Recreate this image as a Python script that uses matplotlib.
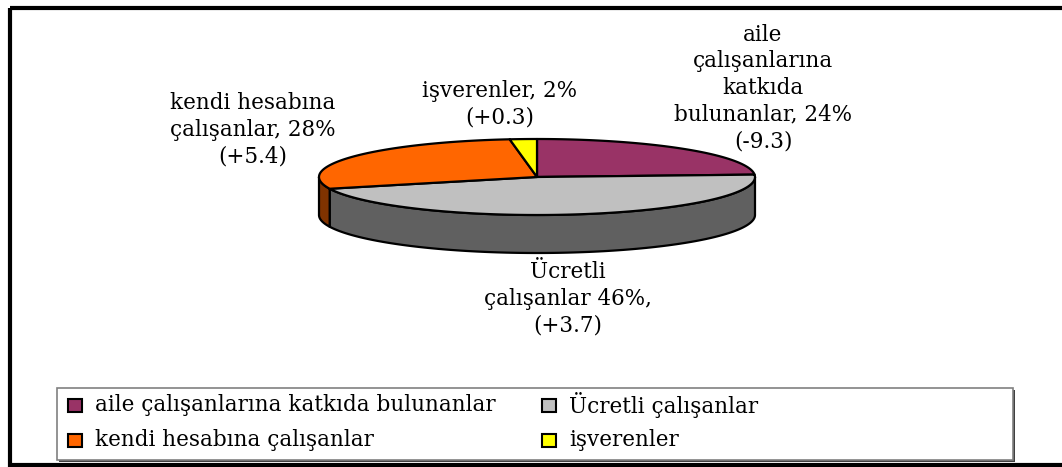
import matplotlib.pyplot as plt
import numpy as np
from matplotlib.patches import Polygon, Rectangle

# data
categories = ['aile çalışanlarına katkıda bulunanlar', 'Ücretli çalışanlar',
              'kendi hesabına çalışanlar', 'işverenler']
shares = [24, 46, 28, 2]
slice_labels = ['aile\nçalışanlarına\nkatkıda\nbulunanlar, 24%\n(-9.3)',
                'Ücretli\nçalışanlar 46%,\n(+3.7)',
                'kendi hesabına\nçalışanlar, 28%\n(+5.4)',
                'işverenler, 2%\n(+0.3)']

top_colors = ['#993366', '#C0C0C0', '#FF6600', '#FFFF00']
side_colors = ['#4d1a33', '#606060', '#803300', '#808000']

# label anchor points (pixel layout)
label_pos = [(763, 88), (568, 299), (253, 130), (500, 104)]

plt.rcParams['font.family'] = ['DejaVu Serif']
fig = plt.figure(figsize=(10.62, 4.67), dpi=100)
ax = fig.add_axes([0, 0, 1, 1])
ax.set_xlim(0, 1062)
ax.set_ylim(467, 0)
ax.axis('off')

# 3d pie geometry
cx, cy, rx, ry, depth = 537, 177, 218, 38, 38


def pt(deg, dy=0):
    t = np.radians(deg)
    return cx + rx * np.cos(t), cy - ry * np.sin(t) + dy


cum = np.concatenate([[0], np.cumsum(shares)]) / sum(shares) * 360
for i in range(len(shares)):
    t_hi = 90 - cum[i]
    t_lo = 90 - cum[i + 1]
    # side wall on the front half of the ellipse
    for k in (-1, 0, 1):
        a = max(t_lo, 180 + 360 * k)
        b = min(t_hi, 360 + 360 * k)
        if b > a:
            th = np.linspace(a, b, 120)
            xs, ys = pt(th)
            xb, yb = pt(th[::-1], depth)
            poly = np.column_stack([np.concatenate([xs, xb]), np.concatenate([ys, yb])])
            ax.add_patch(Polygon(poly, closed=True, facecolor=side_colors[i],
                                 edgecolor='black', lw=1.6, joinstyle='round', zorder=1))
    th = np.linspace(t_hi, t_lo, 200)
    xs, ys = pt(th)
    poly = np.column_stack([np.concatenate([[cx], xs]), np.concatenate([[cy], ys])])
    ax.add_patch(Polygon(poly, closed=True, facecolor=top_colors[i],
                         edgecolor='black', lw=1.6, joinstyle='round', zorder=2))

for (x, y), s in zip(label_pos, slice_labels):
    ax.text(x, y, s, ha='center', va='center', fontsize=15.5, linespacing=1.27,
            color='black', zorder=3)

# legend box with shadow
ax.add_patch(Rectangle((59, 390), 956, 72, facecolor='#404040', edgecolor='none', zorder=4))
ax.add_patch(Rectangle((57, 388), 956, 72, facecolor='white', edgecolor='#808080', lw=1.2, zorder=5))
leg_x = [68, 542, 68, 542]
leg_y = [405, 405, 440, 440]
for i, name in enumerate(categories):
    ax.add_patch(Rectangle((leg_x[i], leg_y[i] - 6.5), 14, 13, facecolor=top_colors[i],
                           edgecolor='black', lw=1.5, zorder=6))
    ax.text(leg_x[i] + 27, leg_y[i], name, ha='left', va='center', fontsize=15.5,
            color='black', zorder=6)

# outer chart border
ax.add_patch(Rectangle((9.5, 7.5), 1070, 457, facecolor='none', edgecolor='black',
                       lw=3, zorder=7, clip_on=False))

fig.savefig('out.png', dpi=100)
